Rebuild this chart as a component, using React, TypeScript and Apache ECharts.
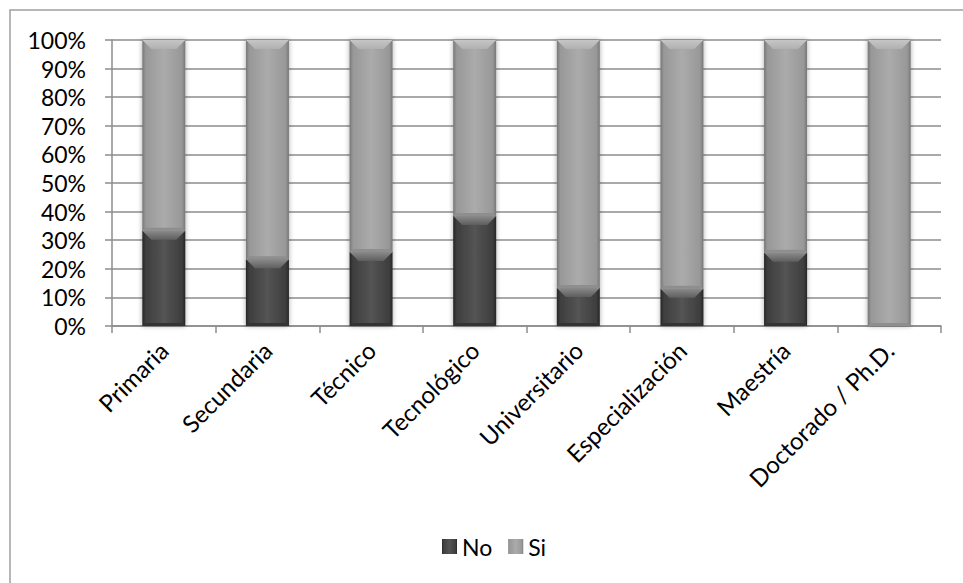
import React, { useEffect, useRef } from "react";
import * as echarts from "echarts";

const categories = ["Primaria", "Secundaria", "Técnico", "Tecnológico", "Universitario", "Especialización", "Maestría", "Doctorado / Ph.D."];
const noValues = [33.3, 23.3, 25.9, 38.5, 13.3, 13.0, 25.6, 0];
const siValues = [66.7, 76.7, 74.1, 61.5, 86.7, 87.0, 74.4, 100];
const yTicks = [0, 10, 20, 30, 40, 50, 60, 70, 80, 90, 100];

const FONT = "Lato";
const BAR_W = 43;

function hGrad(edge: string, mid: string, center: string) {
  return new echarts.graphic.LinearGradient(0, 0, 1, 0, [
    { offset: 0, color: edge },
    { offset: 0.08, color: mid },
    { offset: 0.5, color: center },
    { offset: 0.92, color: mid },
    { offset: 1, color: edge },
  ]);
}

// bevel segments: [categoryIndex, bottom, top, seriesIndex]
const bevelData: number[][] = [];
categories.forEach((_, i) => {
  if (noValues[i] > 0) bevelData.push([i, 0, noValues[i], 0]);
  if (siValues[i] > 0) bevelData.push([i, noValues[i], noValues[i] + siValues[i], 1]);
});

export default function App() {
  const ref = useRef<HTMLDivElement>(null);
  useEffect(() => {
    if (!ref.current) return;
    const chart = echarts.init(ref.current, null, { renderer: "svg" });
    chart.setOption({
      animation: false,
      backgroundColor: "#ffffff",
      graphic: [
        {
          type: "rect",
          shape: { x: 10, y: 10, width: 1000, height: 1000 },
          style: { fill: "none", stroke: "#a0a0a0", lineWidth: 1.5 },
          silent: true,
        },
      ],
      grid: { left: 112, right: 22, top: 40, bottom: 257 },
      legend: {
        left: 442,
        top: 535,
        padding: 0,
        itemWidth: 15,
        itemHeight: 15,
        itemGap: 16,
        icon: "rect",
        textStyle: { fontFamily: FONT, fontSize: 23, color: "#000", padding: [0, 0, 0, 0] },
        data: ["No", "Si"],
      },
      xAxis: {
        type: "category",
        data: categories,
        axisLine: { lineStyle: { color: "#8c8c8c", width: 1.5 } },
        axisTick: { show: true, length: 7, lineStyle: { color: "#8c8c8c", width: 1.5 } },
        axisLabel: {
          rotate: 45,
          interval: 0,
          margin: 20,
          fontFamily: FONT,
          fontSize: 24,
          lineHeight: 24,
          color: "#000",
        },
      },
      yAxis: {
        type: "value",
        min: 0,
        max: 100,
        interval: 10,
        axisLine: { show: true, lineStyle: { color: "#8c8c8c", width: 1.5 } },
        axisTick: { show: true, length: 7, lineStyle: { color: "#8c8c8c", width: 1.5 } },
        splitLine: { lineStyle: { color: "#8c8c8c", width: 1.5 } },
        axisLabel: {
          margin: 26,
          fontFamily: FONT,
          fontSize: 23,
          lineHeight: 22,
          color: "#000",
          formatter: (v: number) => (yTicks.includes(v) ? v + "%" : ""),
        },
      },
      series: [
        {
          name: "No",
          type: "bar",
          stack: "total",
          barWidth: BAR_W,
          data: noValues,
          itemStyle: {
            color: hGrad("#262626", "#3e3e3e", "#545454"),
            shadowBlur: 5,
            shadowColor: "rgba(0,0,0,0.35)",
          },
        },
        {
          name: "Si",
          type: "bar",
          stack: "total",
          barWidth: BAR_W,
          data: siValues,
          itemStyle: {
            color: hGrad("#777777", "#989898", "#ababab"),
            shadowBlur: 5,
            shadowColor: "rgba(0,0,0,0.35)",
          },
        },
        {
          type: "custom",
          silent: true,
          z: 5,
          data: bevelData,
          encode: { x: 0, y: [1, 2] },
          renderItem: (params: any, api: any) => {
            const i = api.value(0);
            const bottom = api.value(1);
            const top = api.value(2);
            const s = api.value(3);
            const pTop = api.coord([i, top]);
            const pBot = api.coord([i, bottom]);
            const h = pBot[1] - pTop[1];
            const b = Math.min(9, h / 2);
            const x0 = pTop[0] - BAR_W / 2;
            const x1 = pTop[0] + BAR_W / 2;
            const y0 = pTop[1];
            const topFill =
              s === 0
                ? new echarts.graphic.LinearGradient(0, 0, 0, 1, [
                    { offset: 0, color: "#8a8a8a" },
                    { offset: 1, color: "#5e5e5e" },
                  ])
                : new echarts.graphic.LinearGradient(0, 0, 0, 1, [
                    { offset: 0, color: "#c6c6c6" },
                    { offset: 1, color: "#b0b0b0" },
                  ]);
            const botFill = s === 0 ? "#333333" : "#8e8e8e";
            const y1 = pBot[1];
            return {
              type: "group",
              children: [
                {
                  type: "polygon",
                  shape: {
                    points: [
                      [x0, y0],
                      [x1, y0],
                      [x1 - b, y0 + b],
                      [x0 + b, y0 + b],
                    ],
                  },
                  style: { fill: topFill },
                },
                {
                  type: "polygon",
                  shape: {
                    points: [
                      [x0, y1],
                      [x1, y1],
                      [x1 - 3, y1 - 3],
                      [x0 + 3, y1 - 3],
                    ],
                  },
                  style: { fill: botFill },
                },
              ],
            };
          },
        },
      ],
    });
    return () => chart.dispose();
  }, []);
  return (
    <div
      ref={ref}
      style={{ position: "fixed", left: 0, top: 0, width: 963, height: 583 }}
    />
  );
}
